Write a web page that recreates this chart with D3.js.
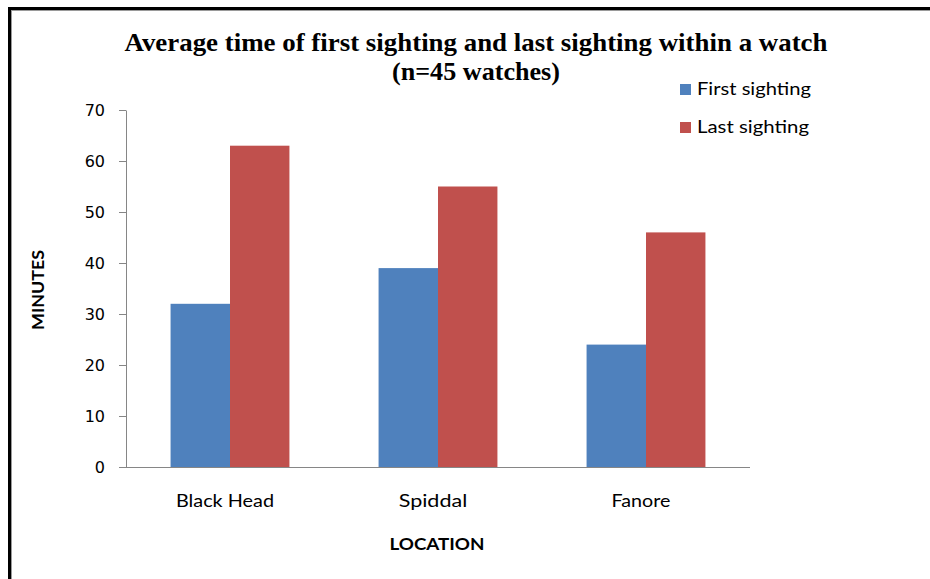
<!DOCTYPE html>
<html>
<head>
<meta charset="utf-8">
<script src="https://cdn.jsdelivr.net/npm/d3@7"></script>
<style>
  html, body { margin: 0; padding: 0; background: #fff; }
  svg { display: block; }
</style>
</head>
<body>
<svg id="chart" width="930" height="579"></svg>
<script>
// Chart data
const categories = ["Black Head", "Spiddal", "Fanore"];
const seriesNames = ["First sighting", "Last sighting"];
const firstSighting = [32, 39, 24];
const lastSighting = [63, 55, 46];
const yTicks = [0, 10, 20, 30, 40, 50, 60, 70];
const seriesColors = ["#4F81BD", "#C0504D"];

const svg = d3.select("#chart");

// Frame: thick black edge on top and left, with a thin grey inner line
svg.append("rect").attr("x", 8).attr("y", 7).attr("width", 922).attr("height", 3).attr("fill", "#000");
svg.append("rect").attr("x", 8).attr("y", 7).attr("width", 3).attr("height", 572).attr("fill", "#000");
svg.append("rect").attr("x", 11).attr("y", 10).attr("width", 919).attr("height", 1).attr("fill", "#9a9a9a");
svg.append("rect").attr("x", 11).attr("y", 10).attr("width", 1).attr("height", 569).attr("fill", "#9a9a9a");

// Plot area
const plot = { left: 126, right: 750, top: 110, bottom: 467 };

// Each category slot holds two bars plus a 1.5-bar gap
const slot = (plot.right - plot.left) / categories.length;
const barW = slot / 3.5;
const xCat = d3.scalePoint().domain(categories).range([plot.left + slot / 2, plot.right - slot / 2]);
const xSeries = d3.scaleBand().domain(seriesNames).range([-barW, barW]);

const y = d3.scaleLinear().domain([0, 70]).range([plot.bottom, plot.top]);

// Bars
const rows = categories.map((c, i) => ({ cat: c, values: [firstSighting[i], lastSighting[i]] }));
const groups = svg.append("g").selectAll("g")
  .data(rows).join("g")
  .attr("transform", d => `translate(${xCat(d.cat)},0)`);

groups.selectAll("rect")
  .data(d => d.values.map((v, j) => ({ name: seriesNames[j], value: v, color: seriesColors[j] })))
  .join("rect")
  .attr("x", d => xSeries(d.name))
  .attr("y", d => y(d.value))
  .attr("width", xSeries.bandwidth())
  .attr("height", d => y(0) - y(d.value))
  .attr("fill", d => d.color);

// Y axis
const yAxis = d3.axisLeft(y).tickValues(yTicks).tickSize(7).tickSizeOuter(0).tickPadding(8);
const gy = svg.append("g").attr("transform", `translate(${plot.left},0)`).call(yAxis);
gy.attr("font-size", null).attr("font-family", null);
gy.select(".domain").attr("stroke", "#868686");
gy.selectAll(".tick line").attr("stroke", "#868686");
gy.selectAll(".tick text")
  .style("font-family", "'DejaVu Sans', Verdana, sans-serif")
  .style("font-size", "16px")
  .attr("fill", "#000")
  .attr("x", -21);

// X axis baseline
svg.append("line")
  .attr("x1", plot.left).attr("x2", plot.right)
  .attr("y1", y(0) + 0.5).attr("y2", y(0) + 0.5)
  .attr("stroke", "#868686").attr("stroke-width", 1);

// Category labels
svg.append("g").selectAll("text")
  .data(categories).join("text")
  .attr("x", d => xCat(d) - 5)
  .attr("y", 507)
  .attr("text-anchor", "middle")
  .attr("font-family", "Lato, 'Open Sans', sans-serif")
  .attr("font-size", 17)
  .attr("fill", "#000")
  .attr("textLength", d => d.length * 9.8)
  .attr("lengthAdjust", "spacingAndGlyphs")
  .text(d => d);

// Axis titles
svg.append("text")
  .attr("x", 437).attr("y", 550)
  .attr("text-anchor", "middle")
  .attr("font-family", "Lato, 'Open Sans', sans-serif")
  .attr("font-weight", "bold")
  .attr("font-size", 17)
  .attr("textLength", 95)
  .attr("lengthAdjust", "spacingAndGlyphs")
  .text("LOCATION");

svg.append("text")
  .attr("transform", "translate(44,290) rotate(-90)")
  .attr("text-anchor", "middle")
  .attr("font-family", "Lato, 'Open Sans', sans-serif")
  .attr("font-weight", "bold")
  .attr("font-size", 17)
  .attr("textLength", 80)
  .attr("lengthAdjust", "spacingAndGlyphs")
  .text("MINUTES");

// Chart title (two lines)
const title = svg.append("g")
  .attr("font-family", "'Liberation Serif', 'Times New Roman', serif")
  .attr("font-weight", "bold")
  .attr("font-size", 25)
  .attr("text-anchor", "middle");
title.append("text").attr("x", 476).attr("y", 51)
  .attr("textLength", 703).attr("lengthAdjust", "spacingAndGlyphs")
  .text("Average time of first sighting and last sighting within a watch");
title.append("text").attr("x", 476).attr("y", 80)
  .attr("textLength", 168).attr("lengthAdjust", "spacingAndGlyphs")
  .text("(n=45 watches)");

// Legend
const legend = svg.append("g").selectAll("g")
  .data(seriesNames).join("g")
  .attr("transform", (d, i) => `translate(680,${84 + i * 38})`);
legend.append("rect")
  .attr("width", 11).attr("height", 11)
  .attr("fill", (d, i) => seriesColors[i]);
legend.append("text")
  .attr("x", 17).attr("y", 11)
  .attr("font-family", "Lato, 'Open Sans', sans-serif")
  .attr("font-size", 18)
  .attr("fill", "#000")
  .attr("textLength", d => d === "First sighting" ? 114 : 112)
  .attr("lengthAdjust", "spacingAndGlyphs")
  .text(d => d);
</script>
</body>
</html>
